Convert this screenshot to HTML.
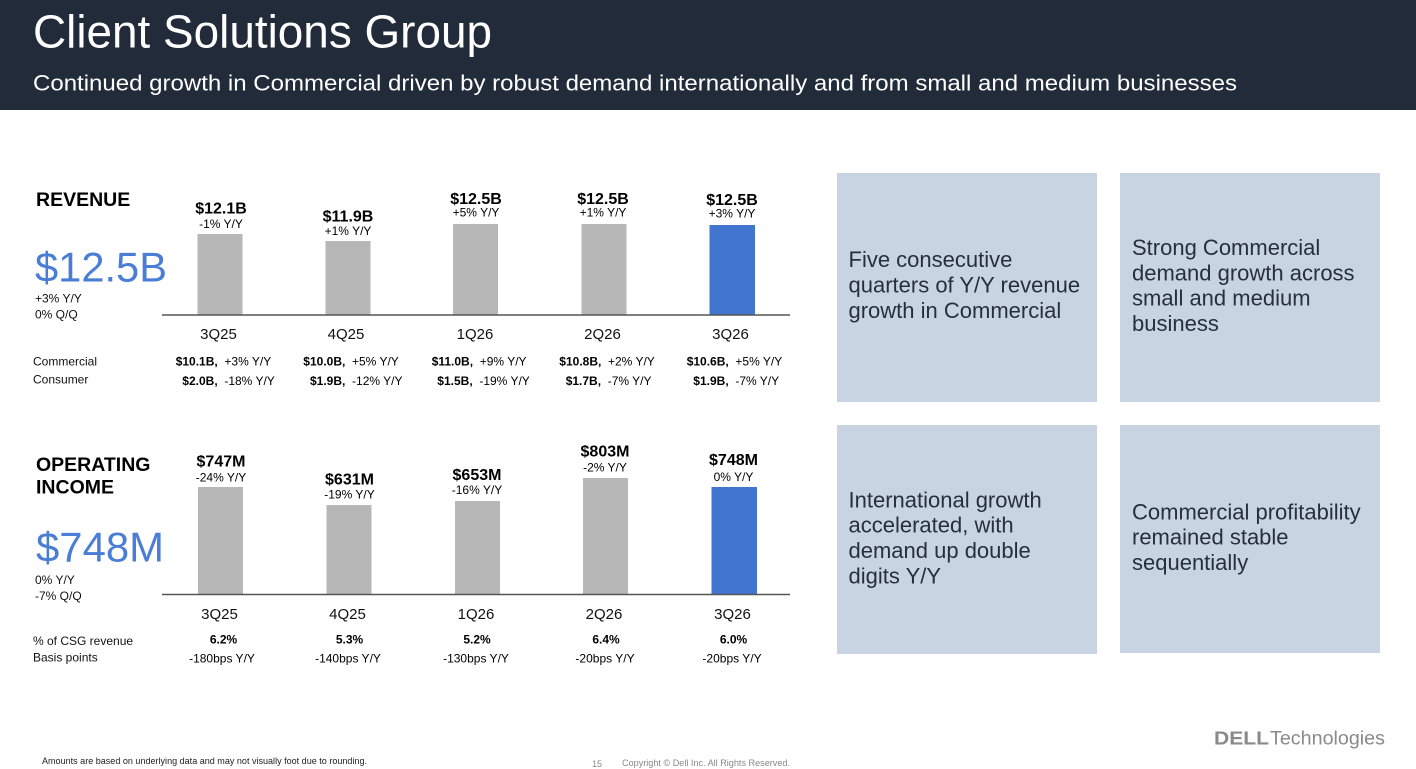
<!DOCTYPE html>
<html>
<head>
<meta charset="utf-8">
<style>
  html,body{margin:0;padding:0;background:#fff;}
  svg{display:block;}
  text{font-family:"Liberation Sans", Arial, sans-serif;}
</style>
</head>
<body>
<svg width="1416" height="769" viewBox="0 0 1416 769" xmlns="http://www.w3.org/2000/svg">
  <!-- Header -->
  <rect x="0" y="0" width="1416" height="110" fill="#222b3a"/>
  <text x="33" y="47.5" font-size="46" fill="#ffffff" textLength="459" lengthAdjust="spacingAndGlyphs">Client Solutions Group</text>
  <text x="33" y="90.5" font-size="22.5" fill="#ffffff" textLength="1204" lengthAdjust="spacingAndGlyphs">Continued growth in Commercial driven by robust demand internationally and from small and medium businesses</text>

  <!-- REVENUE section -->
  <text x="36" y="206" font-size="19.5" font-weight="bold" fill="#000">REVENUE</text>
  <text x="35" y="281.7" font-size="42" fill="#4a7dd6" textLength="132" lengthAdjust="spacingAndGlyphs">$12.5B</text>
  <text x="35" y="302.3" font-size="12" fill="#111">+3% Y/Y</text>
  <text x="35" y="318.3" font-size="12" fill="#111">0% Q/Q</text>

  <rect x="197.5" y="234" width="45" height="81" fill="#b7b7b7"/>
  <rect x="325.5" y="241" width="45" height="74" fill="#b7b7b7"/>
  <rect x="453" y="224" width="45" height="91" fill="#b7b7b7"/>
  <rect x="581.5" y="224" width="45" height="91" fill="#b7b7b7"/>
  <rect x="709.5" y="225" width="45.5" height="90" fill="#4175d0"/>
  <line x1="162" y1="315" x2="790" y2="315" stroke="#555" stroke-width="1.6"/>

  <g text-anchor="middle" fill="#000">
    <text x="221" y="213.5" font-size="16" font-weight="bold">$12.1B</text>
    <text x="221" y="228" font-size="12">-1% Y/Y</text>
    <text x="348" y="221.5" font-size="16" font-weight="bold">$11.9B</text>
    <text x="348" y="235" font-size="12">+1% Y/Y</text>
    <text x="476" y="204" font-size="16" font-weight="bold">$12.5B</text>
    <text x="476" y="216.7" font-size="12">+5% Y/Y</text>
    <text x="603" y="204" font-size="16" font-weight="bold">$12.5B</text>
    <text x="603" y="216.7" font-size="12">+1% Y/Y</text>
    <text x="732" y="205" font-size="16" font-weight="bold">$12.5B</text>
    <text x="732" y="217.7" font-size="12">+3% Y/Y</text>
  </g>

  <g text-anchor="middle" fill="#111" font-size="15">
    <text x="218.5" y="339">3Q25</text>
    <text x="346" y="339">4Q25</text>
    <text x="475" y="339">1Q26</text>
    <text x="602.5" y="339">2Q26</text>
    <text x="730.5" y="339">3Q26</text>
  </g>

  <text x="33" y="365.7" font-size="12" fill="#111">Commercial</text>
  <text x="33" y="383.5" font-size="12" fill="#111">Consumer</text>
  <g font-size="12" fill="#000">
    <text x="175.7" y="365.7"><tspan font-weight="bold">$10.1B,</tspan>&#160;&#160;+3% Y/Y</text>
    <text x="303.3" y="365.7"><tspan font-weight="bold">$10.0B,</tspan>&#160;&#160;+5% Y/Y</text>
    <text x="431.7" y="365.7"><tspan font-weight="bold">$11.0B,</tspan>&#160;&#160;+9% Y/Y</text>
    <text x="559.3" y="365.7"><tspan font-weight="bold">$10.8B,</tspan>&#160;&#160;+2% Y/Y</text>
    <text x="686.7" y="365.7"><tspan font-weight="bold">$10.6B,</tspan>&#160;&#160;+5% Y/Y</text>
    <text x="182.3" y="385"><tspan font-weight="bold">$2.0B,</tspan>&#160;&#160;-18% Y/Y</text>
    <text x="310" y="385"><tspan font-weight="bold">$1.9B,</tspan>&#160;&#160;-12% Y/Y</text>
    <text x="437.3" y="385"><tspan font-weight="bold">$1.5B,</tspan>&#160;&#160;-19% Y/Y</text>
    <text x="565.7" y="385"><tspan font-weight="bold">$1.7B,</tspan>&#160;&#160;-7% Y/Y</text>
    <text x="693.3" y="385"><tspan font-weight="bold">$1.9B,</tspan>&#160;&#160;-7% Y/Y</text>
  </g>

  <!-- OPERATING INCOME section -->
  <text x="36" y="471" font-size="19.5" font-weight="bold" fill="#000">OPERATING</text>
  <text x="36" y="493.5" font-size="19.5" font-weight="bold" fill="#000">INCOME</text>
  <text x="36" y="561.7" font-size="42" fill="#4a7dd6" textLength="128" lengthAdjust="spacingAndGlyphs">$748M</text>
  <text x="35" y="584" font-size="12" fill="#111">0% Y/Y</text>
  <text x="35" y="600" font-size="12" fill="#111">-7% Q/Q</text>

  <rect x="198" y="487" width="45" height="107.5" fill="#b7b7b7"/>
  <rect x="326.5" y="505" width="45" height="89.5" fill="#b7b7b7"/>
  <rect x="455" y="501" width="45" height="93.5" fill="#b7b7b7"/>
  <rect x="583" y="478" width="45" height="116.5" fill="#b7b7b7"/>
  <rect x="711.5" y="487" width="45.5" height="107.5" fill="#4175d0"/>
  <line x1="162" y1="594.5" x2="790" y2="594.5" stroke="#555" stroke-width="1.6"/>

  <g text-anchor="middle" fill="#000">
    <text x="221" y="466.7" font-size="16" font-weight="bold">$747M</text>
    <text x="221" y="481.7" font-size="12">-24% Y/Y</text>
    <text x="349.5" y="484.3" font-size="16" font-weight="bold">$631M</text>
    <text x="349.5" y="498.3" font-size="12">-19% Y/Y</text>
    <text x="477" y="480" font-size="16" font-weight="bold">$653M</text>
    <text x="477" y="494" font-size="12">-16% Y/Y</text>
    <text x="605" y="456.7" font-size="16" font-weight="bold">$803M</text>
    <text x="605" y="471.7" font-size="12">-2% Y/Y</text>
    <text x="733.5" y="465" font-size="16" font-weight="bold">$748M</text>
    <text x="733.5" y="481" font-size="12">0% Y/Y</text>
  </g>

  <g text-anchor="middle" fill="#111" font-size="15">
    <text x="219.5" y="619">3Q25</text>
    <text x="347.5" y="619">4Q25</text>
    <text x="476" y="619">1Q26</text>
    <text x="604" y="619">2Q26</text>
    <text x="732.5" y="619">3Q26</text>
  </g>

  <text x="33" y="645" font-size="12" fill="#111">% of CSG revenue</text>
  <text x="33" y="661.7" font-size="12" fill="#111">Basis points</text>
  <g text-anchor="middle" fill="#000" font-size="12">
    <text x="223.5" y="643.3" font-weight="bold">6.2%</text>
    <text x="349.5" y="643.3" font-weight="bold">5.3%</text>
    <text x="477" y="643.3" font-weight="bold">5.2%</text>
    <text x="606" y="643.3" font-weight="bold">6.4%</text>
    <text x="733.5" y="643.3" font-weight="bold">6.0%</text>
    <text x="222" y="662.3">-180bps Y/Y</text>
    <text x="348" y="662.3">-140bps Y/Y</text>
    <text x="476" y="662.3">-130bps Y/Y</text>
    <text x="605" y="662.3">-20bps Y/Y</text>
    <text x="732" y="662.3">-20bps Y/Y</text>
  </g>

  <!-- Right boxes -->
  <rect x="837" y="173" width="260" height="229" fill="#c9d4e3"/>
  <rect x="1120" y="173" width="260" height="229" fill="#c9d4e3"/>
  <rect x="837" y="425" width="260" height="229" fill="#c9d4e3"/>
  <rect x="1120" y="425" width="260" height="228" fill="#c9d4e3"/>

  <g font-size="22" fill="#262f3d">
    <text x="848.5" y="267.2">Five consecutive</text>
    <text x="848.5" y="292.6">quarters of Y/Y revenue</text>
    <text x="848.5" y="318">growth in Commercial</text>

    <text x="1132" y="254.9">Strong Commercial</text>
    <text x="1132" y="280.3">demand growth across</text>
    <text x="1132" y="305.7">small and medium</text>
    <text x="1132" y="331.1">business</text>

    <text x="848.5" y="507.3">International growth</text>
    <text x="848.5" y="532.7">accelerated, with</text>
    <text x="848.5" y="558">demand up double</text>
    <text x="848.5" y="583.4">digits Y/Y</text>

    <text x="1132" y="519.3">Commercial profitability</text>
    <text x="1132" y="544.7">remained stable</text>
    <text x="1132" y="570">sequentially</text>
  </g>

  <!-- Footer -->
  <text x="42" y="764" font-size="9" fill="#222" textLength="325" lengthAdjust="spacingAndGlyphs">Amounts are based on underlying data and may not visually foot due to rounding.</text>
  <text x="592" y="767" font-size="9" fill="#888" textLength="10" lengthAdjust="spacingAndGlyphs">15</text>
  <text x="622" y="766" font-size="9" fill="#888" textLength="168" lengthAdjust="spacingAndGlyphs">Copyright © Dell Inc. All Rights Reserved.</text>

  <!-- Dell Technologies logo -->
  <text x="1214" y="744.5" font-size="18.5" font-weight="bold" fill="#8a8a8a" textLength="55" lengthAdjust="spacingAndGlyphs">DELL</text>
  <text x="1270" y="744.5" font-size="19" fill="#8a8a8a" textLength="115" lengthAdjust="spacingAndGlyphs">Technologies</text>
</svg>
</body>
</html>
